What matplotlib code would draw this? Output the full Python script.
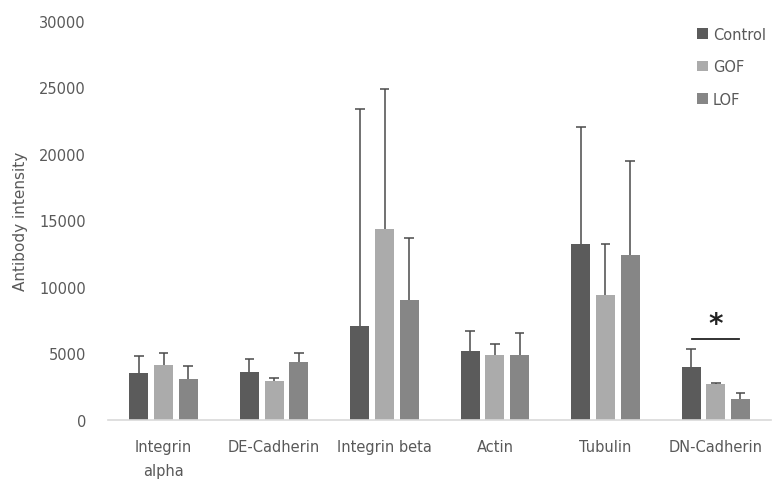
import numpy as np
import matplotlib
matplotlib.use("Agg")
import matplotlib.pyplot as plt

# ── data ──────────────────────────────────────────────
CATEGORIES = ["Integrin\nalpha", "DE-Cadherin", "Integrin beta", "Actin", "Tubulin", "DN-Cadherin"]
SERIES = ["Control", "GOF", "LOF"]

control   = [3500, 3600, 7100, 5200, 13200, 3950]
gof       = [4100, 2950, 14350, 4850, 9400, 2700]
lof       = [3100, 4350, 9050, 4850, 12400, 1550]
control_err = [1330, 980, 16250, 1500, 8800, 1400]
gof_err     = [970, 240, 10550, 860, 3850, 100]
lof_err     = [950, 720, 4600, 1720, 7050, 450]

COLORS = ["#5b5b5b", "#ababab", "#868686"]
TEXT = "#595959"
ERR = "#4a4a4a"

fig = plt.figure(figsize=(7.79, 4.85), dpi=100)
ax = fig.add_axes([0.139, 0.132, 0.851, 0.823])

x = np.arange(len(CATEGORIES))
width = 0.172
offsets = [-0.222, 0.0, 0.222]
values = [control, gof, lof]
errs = [control_err, gof_err, lof_err]
cap = 0.045

for off, vals, err, col, name in zip(offsets, values, errs, COLORS, SERIES):
    xs = x + off
    ax.bar(xs, vals, width, color=col, label=name, zorder=2)
    tops = np.array(vals) + np.array(err)
    # upper error bar only, cap on top
    ax.vlines(xs, vals, tops, color=ERR, lw=1.1, zorder=3)
    ax.hlines(tops, xs - cap, xs + cap, color=ERR, lw=1.1, zorder=3)

# significance marker on DN-Cadherin
ax.plot([5 - 0.215, 5 + 0.205], [6080, 6080], color="#222222", lw=1.3, zorder=4)
ax.text(5, 6150, "*", ha="center", va="bottom", fontsize=20, fontweight="bold", color="#222222")

ax.set_xlim(-0.5, len(CATEGORIES) - 0.5)
ax.set_ylim(0, 30000)
ax.set_yticks(range(0, 30001, 5000))
ax.set_xticks(x)
ax.set_xticklabels(CATEGORIES)
ax.tick_params(axis="both", length=0, labelsize=10.5, colors=TEXT)
ax.tick_params(axis="y", pad=16)
ax.tick_params(axis="x", pad=14)
for lbl in ax.get_xticklabels():
    lbl.set_linespacing(1.7)

for s in ["top", "right", "left"]:
    ax.spines[s].set_visible(False)
ax.spines["bottom"].set_color("#d9d9d9")
ax.spines["bottom"].set_linewidth(1.2)

ax.set_ylabel("Antibody intensity", fontsize=11, color=TEXT, labelpad=8)

ax.legend(loc="upper left", bbox_to_anchor=(0.88, 1.0), frameon=False, fontsize=10.5,
          handlelength=0.7, handleheight=0.7, handletextpad=0.35, labelspacing=1.2,
          borderaxespad=0, labelcolor=TEXT)

fig.savefig("out.png", dpi=100)
